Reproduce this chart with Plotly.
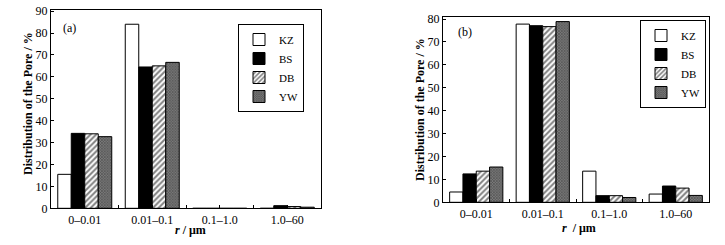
import plotly.graph_objects as go

categories = ["0–0.01", "0.01–0.1", "0.1–1.0", "1.0–60"]
series = ["KZ", "BS", "DB", "YW"]

a_KZ = [15.5, 84.0, 0.0, 0.0]
a_BS = [34.2, 64.5, 0.0, 1.2]
a_DB = [34.0, 65.0, 0.0, 0.8]
a_YW = [32.7, 66.6, 0.0, 0.5]

b_KZ = [4.5, 77.8, 13.6, 3.6]
b_BS = [12.4, 77.1, 2.9, 7.1]
b_DB = [13.6, 76.7, 2.9, 6.2]
b_YW = [15.4, 78.9, 2.1, 3.0]

yticks_a = [0, 10, 20, 30, 40, 50, 60, 70, 80, 90]
yticks_b = [0, 10, 20, 30, 40, 50, 60, 70, 80]

styles = {
    "KZ": dict(color="white", pattern=dict(shape="")),
    "BS": dict(color="black", pattern=dict(shape="")),
    "DB": dict(color="white", pattern=dict(shape="/", fgcolor="black", bgcolor="white", size=4, solidity=0.5)),
    "YW": dict(color="#555", pattern=dict(shape="x", fgcolor="#1a1a1a", bgcolor="#7a7a7a", size=2, solidity=0.5)),
}

# figure fills the whole window (body margin removed below)
W, H = 725, 245
def px(x):
    return x / W
def py(y):
    return 1 - y / H

xpos = list(range(len(categories)))
fig = go.Figure()

for panel, data, xa, ya, lg in [
    ("a", [a_KZ, a_BS, a_DB, a_YW], "x", "y", "legend"),
    ("b", [b_KZ, b_BS, b_DB, b_YW], "x2", "y2", "legend2"),
]:
    for name, vals in zip(series, data):
        st = styles[name]
        fig.add_trace(go.Bar(
            x=xpos, y=vals, name=name, xaxis=xa, yaxis=ya, legend=lg,
            marker=dict(color=st["color"], line=dict(color="black", width=1),
                        pattern=st["pattern"]),
        ))

tickv = [0, 0.5, 1, 1.5, 2, 2.5, 3]
tickt = [categories[0], "", categories[1], "", categories[2], "", categories[3]]

axis_common = dict(showline=True, linecolor="black", linewidth=1, mirror=True,
                   ticks="inside", ticklen=3, tickcolor="black",
                   tickfont=dict(family="Liberation Serif", size=12, color="black"),
                   showgrid=False, zeroline=False, automargin=False,
                   ticklabeloverflow="allow")

legend_common = dict(xanchor="right", yanchor="top",
                     bordercolor="black", borderwidth=1, bgcolor="white",
                     font=dict(family="Liberation Serif", size=11, color="black"),
                     tracegroupgap=0, itemwidth=30)

fig.update_layout(
    width=W, height=H,
    margin=dict(l=0, r=0, t=0, b=0, autoexpand=False),
    paper_bgcolor="white", plot_bgcolor="white",
    barmode="group", bargap=0.2, bargroupgap=0,
    showlegend=True,
    xaxis=dict(domain=[px(51), px(321)], range=[-0.5, 3.5], tickvals=tickv, ticktext=tickt, anchor="y", **axis_common),
    yaxis=dict(domain=[py(208.3), py(10)], range=[0, 90.5], tickvals=yticks_a, anchor="x", **axis_common),
    xaxis2=dict(domain=[px(443), px(709)], range=[-0.5, 3.5], tickvals=tickv, ticktext=tickt, anchor="y2", **axis_common),
    yaxis2=dict(domain=[py(202.3), py(17)], range=[0, 80.9], tickvals=yticks_b, anchor="x2", **axis_common),
    legend=dict(x=px(304), y=py(24), **legend_common),
    legend2=dict(x=px(706), y=py(20), **legend_common),
)

title_font = dict(family="Liberation Serif", size=12, color="black")
ann = [
    dict(text="(a)", x=px(61), y=py(28), xanchor="left", yanchor="middle"),
    dict(text="(b)", x=px(456), y=py(32), xanchor="left", yanchor="middle"),
    dict(text="<b><i>r</i> / μm</b>", x=px(190), y=py(230), xanchor="center", yanchor="middle"),
    dict(text="<b><i>r</i>  / μm</b>", x=px(579), y=py(228), xanchor="center", yanchor="middle"),
    dict(text="<b>Distribution of the Pore / %</b>", x=px(28), y=py(104), xanchor="center", yanchor="middle", textangle=-90),
    dict(text="<b>Distribution of the Pore / %</b>", x=px(420), y=py(110), xanchor="center", yanchor="middle", textangle=-90),
]
for a in ann:
    a.update(xref="paper", yref="paper", showarrow=False, font=title_font)
    fig.add_annotation(**a)

fig.write_html("out.html",
               config=dict(displayModeBar=False),
               post_script="document.body.style.margin='0';document.body.style.overflow='hidden';")
